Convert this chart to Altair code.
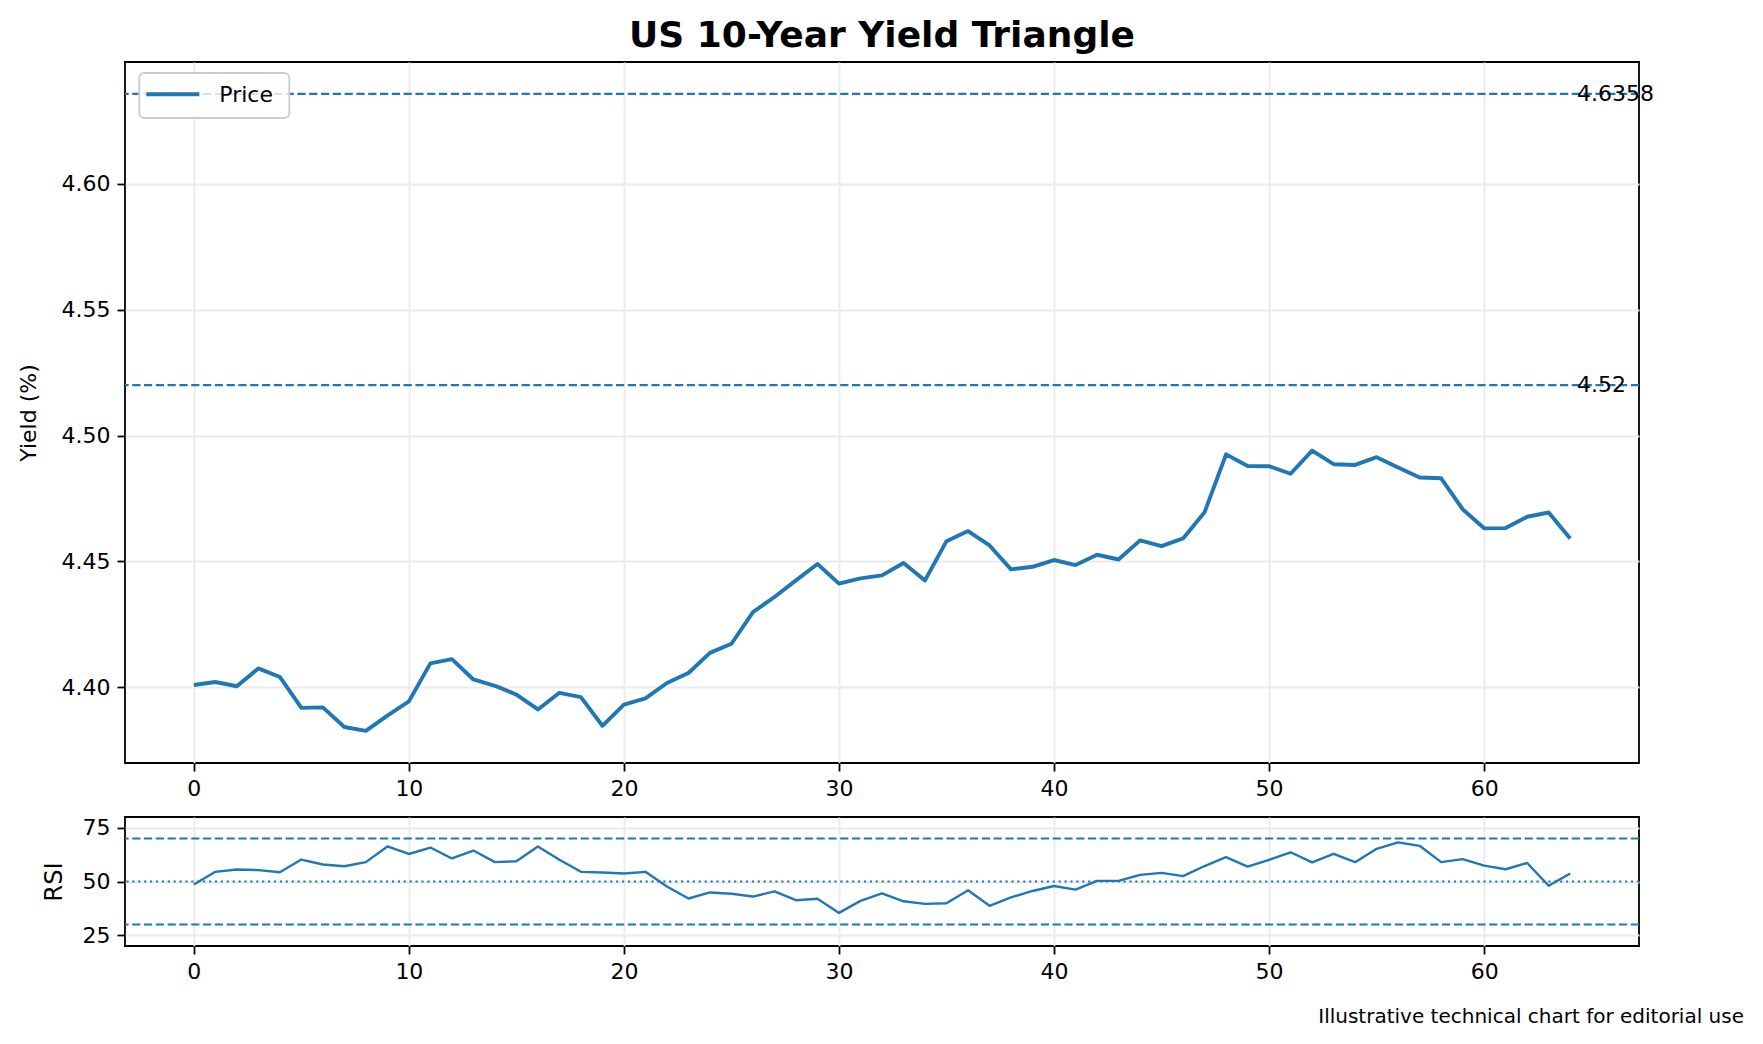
import altair as alt
import pandas as pd

# --- data ------------------------------------------------------------------
steps = list(range(65))
price = [
    4.4008, 4.4020, 4.4003, 4.4074, 4.4040, 4.3917, 4.3919, 4.3841, 4.3826, 4.3886,
    4.3943, 4.4094, 4.4111, 4.4030, 4.4005, 4.3970, 4.3911, 4.3977, 4.3960, 4.3846,
    4.3930, 4.3955, 4.4016, 4.4056, 4.4136, 4.4172, 4.4298, 4.4358, 4.4424, 4.4489,
    4.4411, 4.4432, 4.4444, 4.4493, 4.4424, 4.4580, 4.4620, 4.4563, 4.4468, 4.4478,
    4.4505, 4.4485, 4.4526, 4.4507, 4.4583, 4.4560, 4.4591, 4.4695, 4.4925, 4.4879,
    4.4878, 4.4848, 4.4940, 4.4886, 4.4883, 4.4914, 4.4873, 4.4833, 4.4830, 4.4707,
    4.4631, 4.4632, 4.4677, 4.4694, 4.4591,
]
rsi = [
    48.6, 54.5, 55.6, 55.3, 54.3, 60.2, 57.9, 57.1, 59.0, 66.3,
    62.8, 65.8, 60.7, 64.4, 59.0, 59.4, 66.3, 60.1, 54.5, 54.2,
    53.7, 54.5, 47.7, 42.1, 44.9, 44.3, 43.0, 45.4, 41.3, 42.0,
    35.4, 41.0, 44.5, 40.8, 39.6, 39.9, 45.9, 38.7, 42.6, 45.6,
    47.9, 46.2, 50.3, 50.3, 53.1, 54.0, 52.5, 57.2, 61.3, 56.9,
    60.1, 63.6, 58.9, 62.9, 59.0, 65.2, 68.2, 66.6, 59.0, 60.4,
    57.4, 55.7, 58.6, 48.0, 53.7,
]
levels = [4.6358, 4.52]
level_labels = ["4.6358", "4.52"]
rsi_bands = [70, 30]
rsi_mid = [50]

title = "US 10-Year Yield Triangle"
footer = "Illustrative technical chart for editorial use"
series_name = "Price"

BLUE = "#1f77b4"
FONT = "DejaVu Sans"
W = 1514
H_MAIN = 701
H_RSI = 129

df = pd.DataFrame({"step": steps, "price": price, "rsi": rsi})
lv = pd.DataFrame({"level": levels, "label": level_labels})

xscale = alt.Scale(domain=[-3.2, 67.2], nice=False, zero=False)
xaxis = alt.Axis(values=list(range(0, 61, 10)), title=None, labelPadding=7)

yscale = alt.Scale(domain=[4.3698, 4.6485], nice=False, zero=False)
yaxis = alt.Axis(
    values=[4.40, 4.45, 4.50, 4.55, 4.60],
    format=".2f",
    title="Yield (%)",
    titleFontSize=22,
    titleX=-97,
    titleY=H_MAIN / 2,
    titleAngle=270,
    titleAlign="center",
    titleBaseline="middle",
)

# --- main price panel -------------------------------------------------------
price_line = alt.Chart(df).mark_line(
    color=BLUE, strokeWidth=3.9, strokeJoin="round"
).encode(
    x=alt.X("step:Q", scale=xscale, axis=xaxis),
    y=alt.Y("price:Q", scale=yscale, axis=yaxis),
)

level_rules = alt.Chart(lv).mark_rule(
    color=BLUE, strokeWidth=2.2, strokeDash=[8.2, 3.6]
).encode(y=alt.Y("level:Q", scale=yscale, axis=yaxis))

level_text = alt.Chart(lv).mark_text(
    align="left", baseline="middle", font=FONT, fontSize=22, color="black"
).encode(
    x=alt.value(1452),
    y=alt.Y("level:Q", scale=yscale, axis=yaxis),
    text="label:N",
)

title_text = alt.Chart(pd.DataFrame({"t": [title]})).mark_text(
    align="center", baseline="alphabetic", font=FONT, fontSize=36,
    fontWeight="bold", color="black",
).encode(x=alt.value(W / 2), y=alt.value(-15), text="t:N")

legend_box = alt.Chart(pd.DataFrame({"s": [series_name]})).mark_rect(
    fill="white", fillOpacity=0.8, stroke="#cccccc", strokeWidth=1.8, cornerRadius=5
).encode(x=alt.value(14.3), x2=alt.value(164.3), y=alt.value(11), y2=alt.value(56))

legend_line = alt.Chart(pd.DataFrame({"s": [series_name]})).mark_rule(
    color=BLUE, strokeWidth=3.9
).encode(x=alt.value(21.3), x2=alt.value(74.3), y=alt.value(32.3))

legend_text = alt.Chart(pd.DataFrame({"s": [series_name]})).mark_text(
    align="left", baseline="alphabetic", font=FONT, fontSize=22, color="black"
).encode(x=alt.value(94.3), y=alt.value(40), text="s:N")

main = alt.layer(
    price_line, level_rules, legend_box, legend_line, legend_text, level_text, title_text
).properties(width=W, height=H_MAIN)

# --- RSI panel --------------------------------------------------------------
rsi_scale = alt.Scale(domain=[20, 80], nice=False, zero=False)
rsi_axis = alt.Axis(
    values=[25, 50, 75],
    format="d",
    title="RSI",
    titleFontSize=24.4,
    titleX=-70.7,
    titleY=H_RSI / 2,
    titleAngle=270,
    titleAlign="center",
    titleBaseline="middle",
)

rsi_line = alt.Chart(df).mark_line(
    color=BLUE, strokeWidth=2.4, strokeJoin="round"
).encode(
    x=alt.X("step:Q", scale=xscale, axis=xaxis),
    y=alt.Y("rsi:Q", scale=rsi_scale, axis=rsi_axis),
)

band_rules = alt.Chart(pd.DataFrame({"v": rsi_bands})).mark_rule(
    color=BLUE, strokeWidth=2.0, strokeDash=[8.2, 3.6]
).encode(y=alt.Y("v:Q", scale=rsi_scale, axis=rsi_axis))

mid_rule = alt.Chart(pd.DataFrame({"v": rsi_mid})).mark_rule(
    color=BLUE, strokeWidth=2.0, strokeDash=[2.2, 3.7]
).encode(y=alt.Y("v:Q", scale=rsi_scale, axis=rsi_axis))

footer_text = alt.Chart(pd.DataFrame({"t": [footer]})).mark_text(
    align="right", baseline="alphabetic", font=FONT, fontSize=20, color="black"
).encode(x=alt.value(1619), y=alt.value(206), text="t:N")

rsi_panel = alt.layer(rsi_line, band_rules, mid_rule, footer_text).properties(
    width=W, height=H_RSI
)

chart = (
    alt.vconcat(main, rsi_panel, spacing=54, bounds="flush")
    .properties(padding={"left": 8, "top": 9, "right": 5, "bottom": 5}, background="white")
    .configure_view(stroke="black", strokeWidth=1.8)
    .configure_axis(
        labelFont=FONT,
        labelFontSize=22,
        labelColor="black",
        titleFont=FONT,
        titleFontWeight="normal",
        titleColor="black",
        tickColor="black",
        tickSize=8,
        tickWidth=1.8,
        domain=False,
        grid=True,
        gridColor="#ebebeb",
        gridWidth=1.8,
    )
    .configure_axisLeft(labelPadding=7)
)

chart.save("out.html", embed_options={"renderer": "svg", "actions": False})
